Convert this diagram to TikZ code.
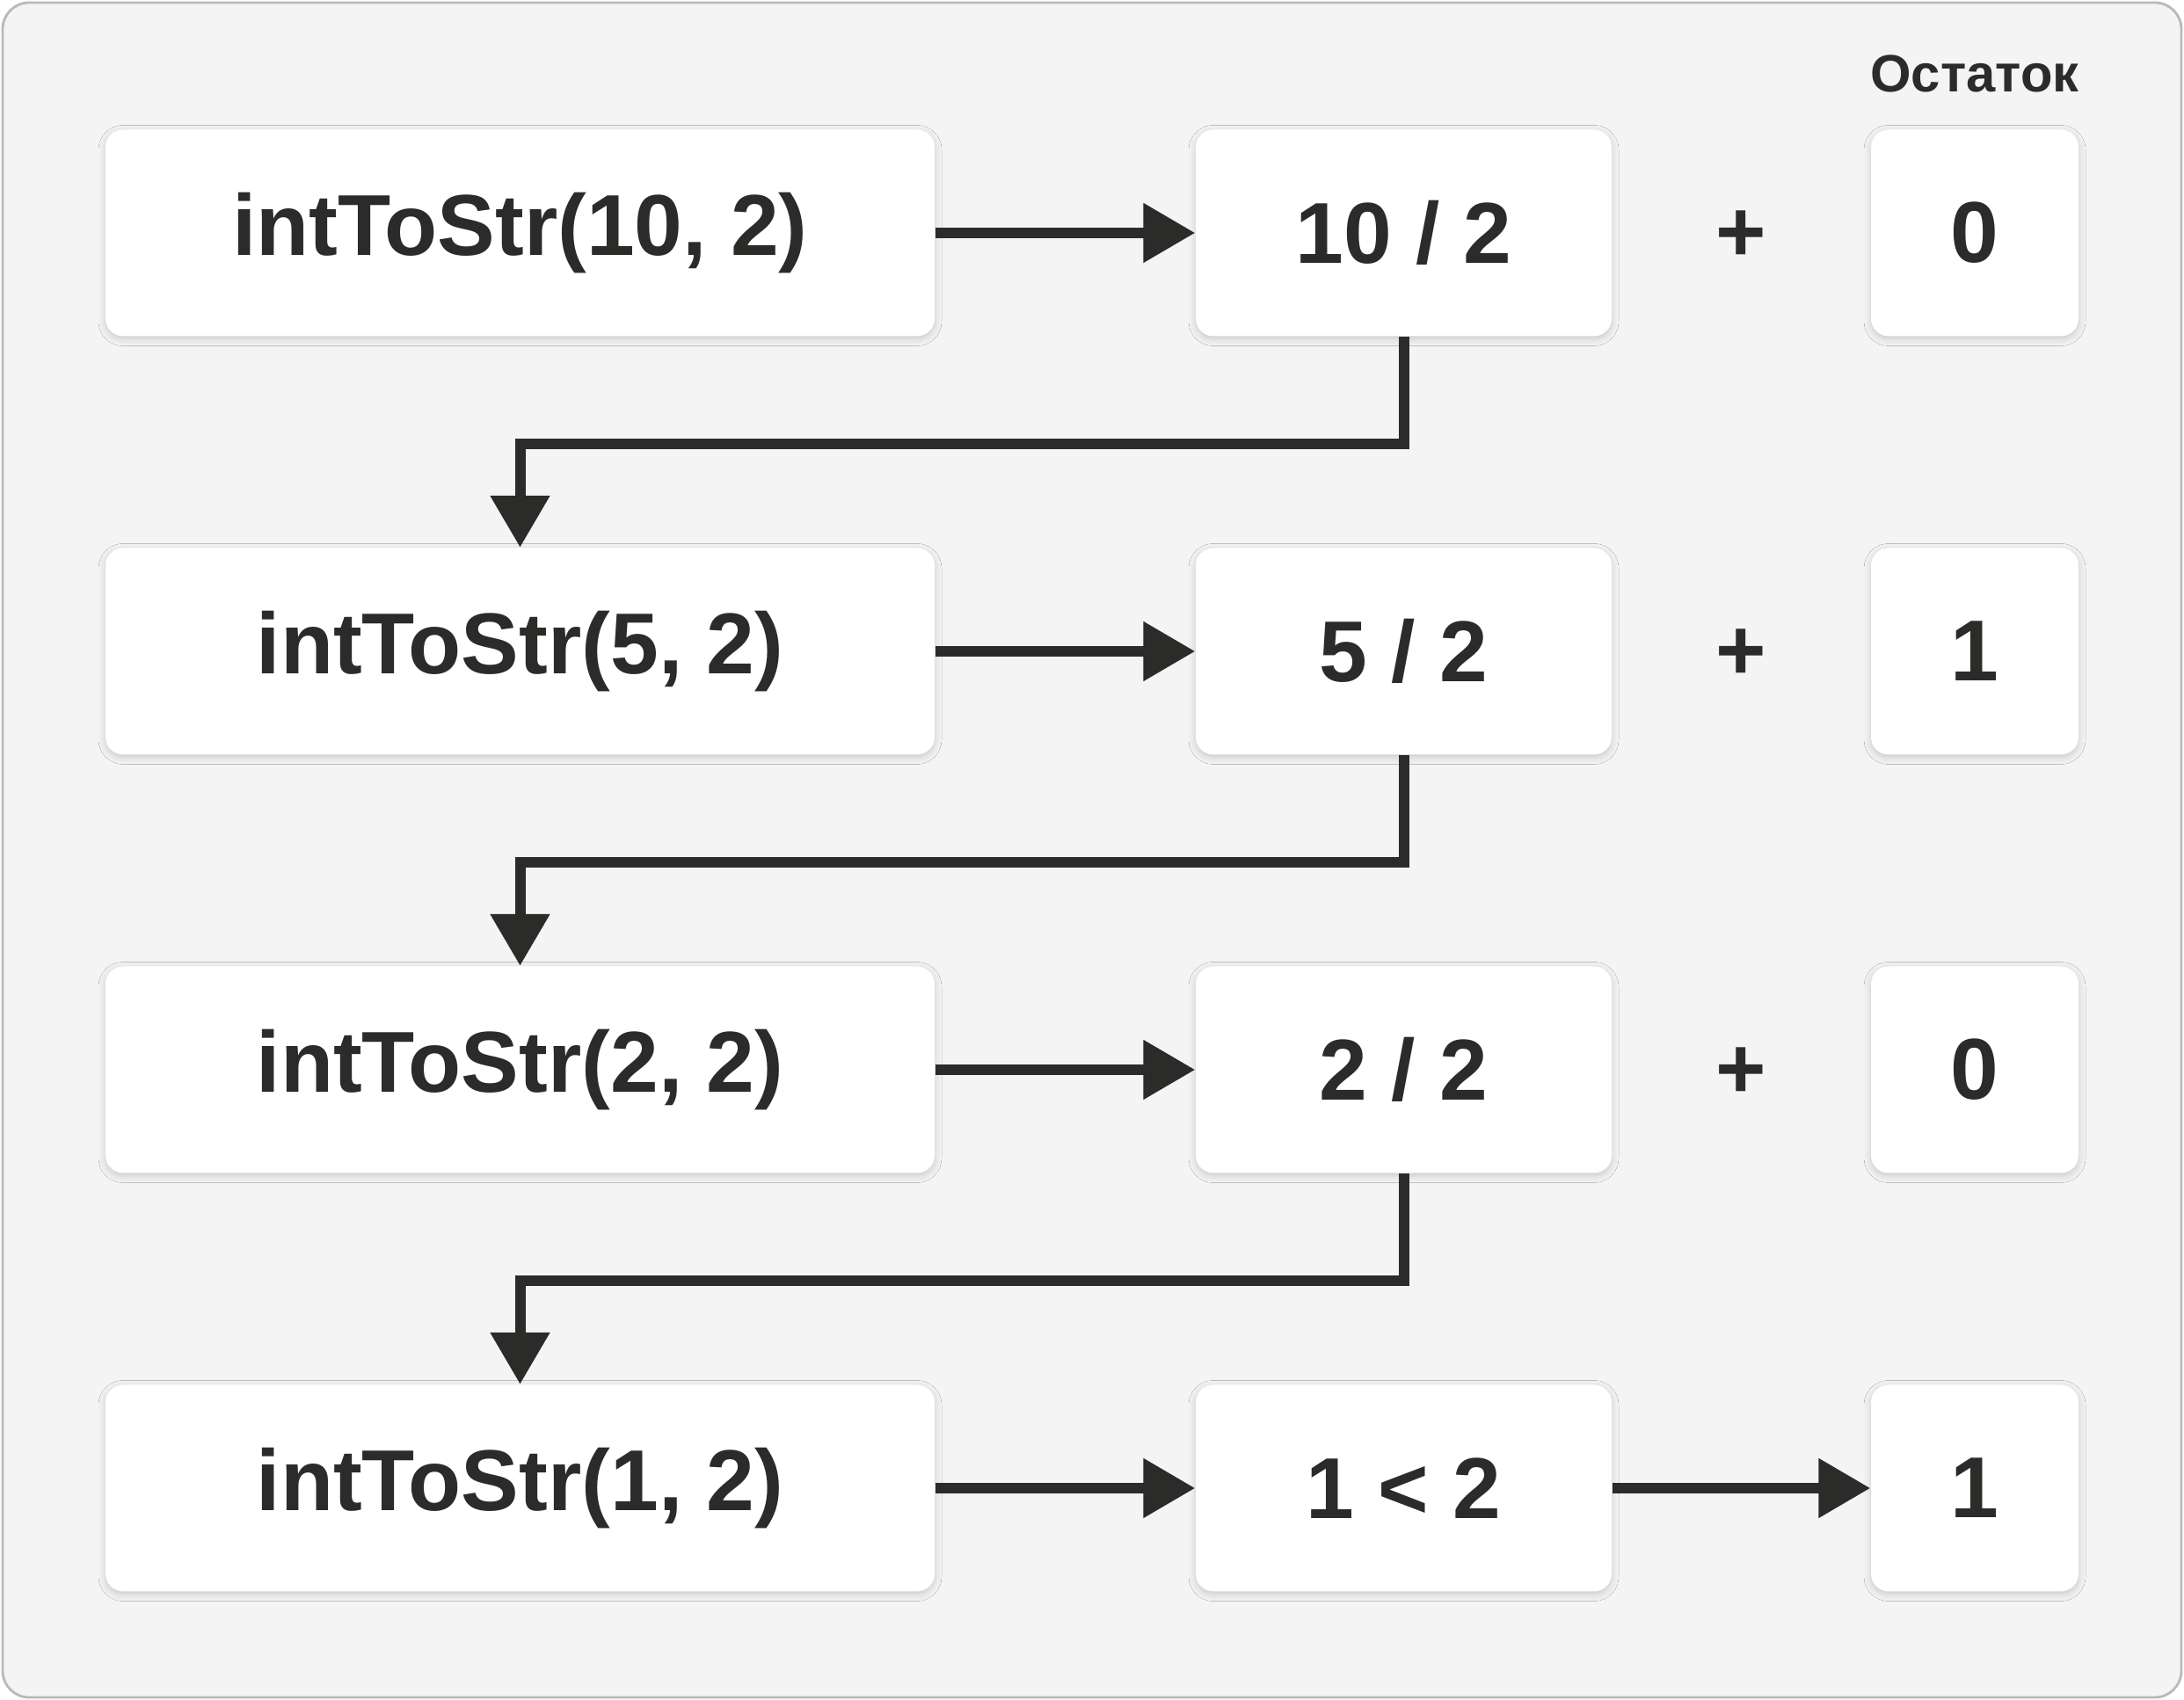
\documentclass[tikz,border=0pt]{standalone}
\usepackage{fontspec}
\setmainfont{Liberation Sans}
\usetikzlibrary{arrows.meta,positioning,shadows.blur}
\definecolor{recink}{HTML}{2B2B29}
\definecolor{recpanel}{HTML}{F4F4F4}
\definecolor{recrim}{HTML}{B9B9B9}
\tikzset{
  bx/.style={rounded corners=2mm, fill=white, minimum height=23.5mm, inner sep=0pt, text=recink,
    font=\fontsize{28}{34}\selectfont\bfseries,
    blur shadow={shadow xshift=0pt, shadow yshift=-0.3mm, shadow blur radius=0.8mm, shadow opacity=18}},
  call/.style={bx, minimum width=94.3mm},
  dv/.style={bx, minimum width=47.3mm},
  rem/.style={bx, minimum width=23.6mm},
  pl/.style={text=recink, font=\fontsize{28}{34}\selectfont\bfseries, inner sep=0pt, yshift=-0.4mm},
  lbl/.style={text=recink, font=\fontsize{17}{20}\selectfont\bfseries, inner sep=0pt},
  frm/.style={draw=recrim, line width=0.8pt, fill=recpanel, rounded corners=3mm},
  arr/.style={-{Triangle[length=5.9mm, width=6.5mm]}, line width=1.2mm, color=recink},
}
\begin{document}
\begin{tikzpicture}
    \useasboundingbox (0,0) rectangle (24.84,19.34);
    \draw[frm] (0.03,0.03) rectangle (24.81,19.31);
    \node[lbl, anchor=base] (hd) at (22.46,18.29) {Остаток};
    % one row per call
    \node[call] (l1) at (5.915,16.69) {intToStr(10, 2)};
    \node[dv] (m1) at (15.965,16.69) {10 / 2};
    \node[pl] (p1) at (19.80,16.69) {+};
    \node[rem] (r1) at (22.46,16.69) {0};
    \node[call] (l2) at (5.915,11.93) {intToStr(5, 2)};
    \node[dv] (m2) at (15.965,11.93) {5 / 2};
    \node[pl] (p2) at (19.80,11.93) {+};
    \node[rem] (r2) at (22.46,11.93) {1};
    \node[call] (l3) at (5.915,7.17) {intToStr(2, 2)};
    \node[dv] (m3) at (15.965,7.17) {2 / 2};
    \node[pl] (p3) at (19.80,7.17) {+};
    \node[rem] (r3) at (22.46,7.17) {0};
    \node[call] (l4) at (5.915,2.41) {intToStr(1, 2)};
    \node[dv] (m4) at (15.965,2.41) {1 < 2};
    \node[rem] (r4) at (22.46,2.41) {1};
    \foreach \a/\b in {l1/m1,l2/m2,l3/m3,l4/m4,m4/r4} \draw[arr] (\a) -- (\b);
    \foreach \a/\b in {m1/l2,m2/l3,m3/l4} \draw[arr] (\a.south) -- ++(0,-1.22) -| (\b.north);
\end{tikzpicture}
\end{document}
